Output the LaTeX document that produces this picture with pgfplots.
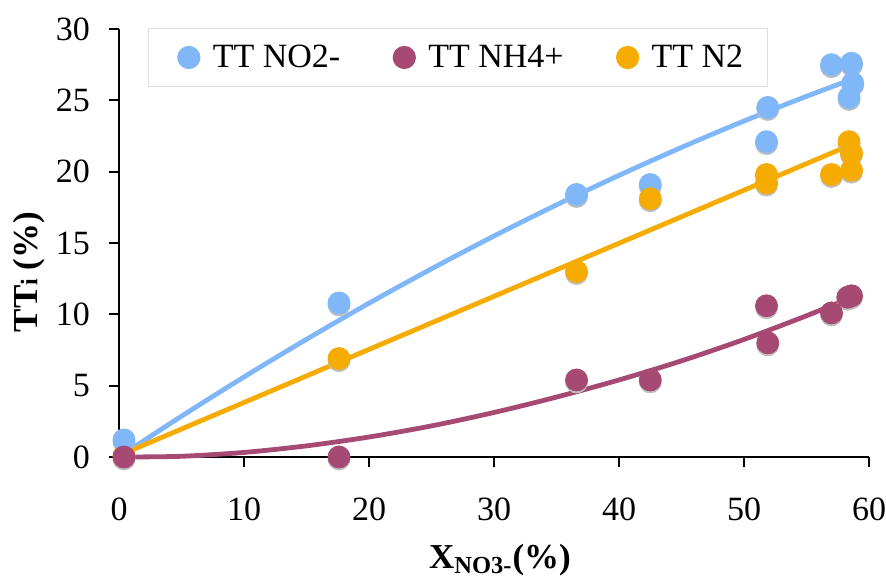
\documentclass[border=0pt]{standalone}
\usepackage{fontspec}
\setmainfont{Liberation Serif}
\usepackage{pgfplots}
\pgfplotsset{compat=1.18}
\definecolor{cblue}{RGB}{127,183,249}
\definecolor{cpurp}{RGB}{166,74,116}
\definecolor{corng}{RGB}{246,171,0}
\begin{document}
\begin{tikzpicture}
\useasboundingbox (-59.5pt,-62pt) rectangle (383.5pt,228.5pt);
\begin{axis}[
  at={(0,0)}, anchor=south west,
  width=375pt, height=214pt, scale only axis,
  xmin=0, xmax=60, ymin=0, ymax=30,
  xtick={0,10,...,60}, ytick={0,5,...,30},
  axis lines*=left, axis line style={line width=1pt},
  tick align=outside, major tick length=5pt,
  tick style={line width=1pt, black},
  clip=false,
  /pgf/number format/assume math mode=true,
  tick label style={font=\fontsize{17}{17}\selectfont},
  xticklabel style={yshift=-12pt},
  yticklabel style={xshift=-6pt},
  xlabel={\textbf{X\textsubscript{NO3-}(\%)}},
  ylabel={\textbf{TT{\fontsize{12}{12}\selectfont i} (\%)}},
  label style={font=\fontsize{17.5}{18}\selectfont},
  xlabel style={at={(axis description cs:0.508,-0.24)}, anchor=center},
  ylabel style={at={(axis description cs:-0.12,0.432)}, anchor=center},
  legend columns=3,
  legend style={at={(axis description cs:0.039,1.002)}, anchor=north west,
    draw=gray!25, line width=0.6pt, inner xsep=10pt, inner ysep=6pt,
    font=\fontsize{17}{18}\selectfont,
    /tikz/column 2/.style={column sep=20pt},
    /tikz/column 4/.style={column sep=20pt}},
  legend image code/.code={\path[draw=none,fill=none] (0pt,-3pt) rectangle (20pt,3pt); \draw[#1,mark repeat=2,mark phase=2] plot coordinates {(0pt,0pt)(10pt,0pt)(20pt,0pt)};},
]
% trend lines
\addplot[cblue, line width=2.4pt, smooth, forget plot] coordinates {
(0.4,0.23)(5,2.86)(10,5.61)(15,8.25)(20,10.78)(25,13.19)(30,15.49)(35,17.67)(40,19.74)(45,21.70)(50,23.55)(55,25.28)(58.6,26.46)};
\addplot[cpurp, line width=2.4pt, smooth, forget plot] coordinates {
(0.4,0.0)(5,0.05)(10,0.32)(15,0.78)(20,1.40)(25,2.18)(30,3.12)(35,4.2)(40,5.4)(45,6.74)(50,8.24)(55,9.9)(58.6,11.19)};
\addplot[corng, line width=2.4pt, forget plot] coordinates {
(0.4,0.25)(58.6,21.9)};
% shadows
\addplot[only marks, mark=*, mark size=5.5pt, color=black!25, mark options={yshift=-1pt}, forget plot] coordinates {
(0.4,1.2)(17.6,10.8)(36.6,18.4)(42.5,19.1)(51.9,24.5)(51.8,22.1)(57.0,27.5)(58.6,27.6)(58.7,26.2)(58.4,25.2)
(0.4,0)(17.6,0)(36.6,5.4)(42.5,5.4)(51.8,10.6)(51.9,8.0)(57.0,10.1)(58.6,11.3)(58.3,11.2)
(17.6,6.9)(36.6,13.0)(42.5,18.1)(51.8,19.8)(51.8,19.2)(57.0,19.8)(58.4,22.1)(58.6,21.3)(58.6,20.1)};
% data
\addplot[only marks, mark=*, mark size=5.5pt, color=corng, forget plot] coordinates {(0.4,0.1)};
\addplot[only marks, mark=*, mark size=5.5pt, color=cblue] coordinates {
(0.4,1.2)(17.6,10.8)(36.6,18.4)(42.5,19.1)(51.9,24.5)(51.8,22.1)(57.0,27.5)(58.6,27.6)(58.7,26.2)(58.4,25.2)};
\addlegendentry{TT NO2-}
\addplot[only marks, mark=*, mark size=5.5pt, color=cpurp] coordinates {
(0.4,0)(17.6,0)(36.6,5.4)(42.5,5.4)(51.8,10.6)(51.9,8.0)(57.0,10.1)(58.6,11.3)(58.3,11.2)};
\addlegendentry{TT NH4+}
\addplot[only marks, mark=*, mark size=5.5pt, color=corng] coordinates {
(17.6,6.9)(36.6,13.0)(42.5,18.1)(51.8,19.8)(51.8,19.2)(57.0,19.8)(58.4,22.1)(58.6,21.3)(58.6,20.1)};
\addlegendentry{TT N2}
\end{axis}
\end{tikzpicture}
\end{document}
